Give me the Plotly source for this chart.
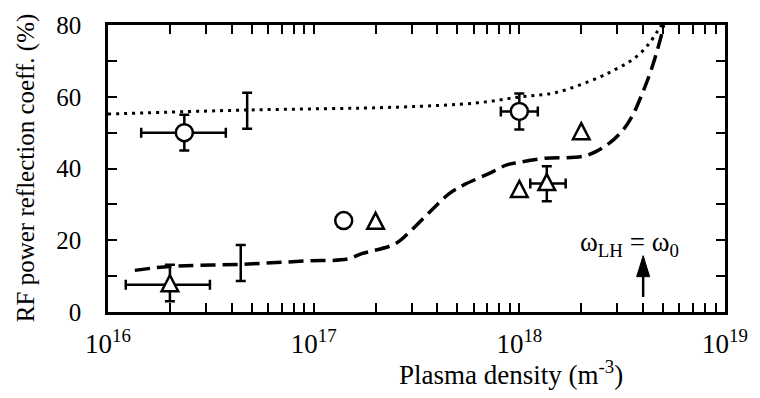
import plotly.graph_objects as go

# ---------------- data ----------------
# dotted theory curve
dot_x = [1.0e16, 4.73e16, 2.56e17, 6.24e17, 9.93e17, 1.51e18, 2.44e18, 2.95e18,
         3.48e18, 3.98e18, 4.36e18, 4.70e18, 4.92e18]
dot_y = [55.2, 56.3, 57.1, 58.3, 59.9, 61.2, 65.4, 67.7, 70.0, 72.8, 75.5, 78.3, 80.0]

# dashed theory curve
dash_x = [1.35e16, 1.99e16, 4.43e16, 9.02e16, 1.47e17, 1.70e17, 2.48e17, 2.96e17,
          3.70e17, 4.61e17, 5.40e17, 7.19e17, 8.69e17, 9.93e17, 1.31e18, 2.11e18,
          2.73e18, 3.22e18, 3.56e18, 3.98e18, 4.36e18, 4.70e18, 4.98e18, 5.02e18]
dash_y = [11.6, 12.7, 13.3, 14.2, 14.8, 16.2, 18.95, 22.6, 28.1, 33.2, 35.5, 38.7,
          41.0, 41.7, 42.8, 43.6, 47.0, 51.0, 54.9, 61.2, 67.2, 73.2, 78.7, 80.0]

# circles (measured)
circ_x = [2.35e16, 1.40e17, 1.0e18]
circ_y = [50.0, 25.5, 55.9]
circ_xlo = [1.45e16, 1.40e17, 8.13e17]
circ_xhi = [3.74e16, 1.40e17, 1.23e18]
circ_err = [5.0, 0.0, 5.0]

# triangles (measured)
tri_x = [2.0e16, 2.0e17, 2.0e18, 1.0e18, 1.36e18]
tri_y = [7.6, 25.0, 50.0, 33.9, 35.8]
tri_xlo = [1.22e16, 2.0e17, 2.0e18, 1.0e18, 1.13e18]
tri_xhi = [3.13e16, 2.0e17, 2.0e18, 1.0e18, 1.68e18]
tri_err_plus = [5.6, 0.0, 0.0, 0.0, 4.8]
tri_err_minus = [4.6, 0.0, 0.0, 0.0, 4.9]

# bare error bars
bar_x = [4.75e16, 4.42e16]
bar_y = [56.1, 13.65]
bar_err = [5.0, 5.0]

# axis ticks
x_tickvals = [1e16, 1e17, 1e18, 1e19]
x_ticktext = ["10<sup>16</sup>", "10<sup>17</sup>", "10<sup>18</sup>", "10<sup>19</sup>"]
x_minor = [m * 10 ** k for k in (16, 17, 18) for m in range(2, 10)]

# annotation arrow (omega_LH = omega_0)
arrow_x = 4.0e18
arrow_tail_y = 4.2
arrow_tip_y = 15.7

FONT = "Liberation Serif"
BLACK = "black"

# open-triangle glyph (pixels, relative to the data point, y up)
TRI_GLYPH = "M0,9.5 L8.3,-6.5 L-8.3,-6.5 Z"

fig = go.Figure()

fig.add_trace(go.Scatter(x=dot_x, y=dot_y, mode="lines", line_shape="spline",
                         line=dict(color=BLACK, width=3, dash="3px,5px"),
                         showlegend=False, hoverinfo="skip"))
fig.add_trace(go.Scatter(x=dash_x, y=dash_y, mode="lines", line_shape="spline",
                         line=dict(color=BLACK, width=3.5, dash="15px,7px"),
                         showlegend=False, hoverinfo="skip"))

eb = dict(color=BLACK, thickness=2.5, width=5)

fig.add_trace(go.Scatter(
    x=bar_x, y=bar_y, mode="markers",
    marker=dict(size=1, color="rgba(0,0,0,0)"),
    error_y=dict(type="data", array=bar_err, **eb),
    showlegend=False))

fig.add_trace(go.Scatter(
    x=circ_x, y=circ_y, mode="markers",
    marker=dict(symbol="circle", size=17, color="white", line=dict(color=BLACK, width=2.5)),
    error_y=dict(type="data", array=circ_err, **eb),
    error_x=dict(type="data", symmetric=False,
                 array=[h - x for h, x in zip(circ_xhi, circ_x)],
                 arrayminus=[x - l for l, x in zip(circ_xlo, circ_x)], **eb),
    showlegend=False))

fig.add_trace(go.Scatter(
    x=tri_x, y=tri_y, mode="markers",
    marker=dict(symbol="triangle-up", size=12, color="rgba(0,0,0,0)",
                line=dict(color="rgba(0,0,0,0)", width=0)),
    error_y=dict(type="data", symmetric=False, array=tri_err_plus, arrayminus=tri_err_minus, **eb),
    error_x=dict(type="data", symmetric=False,
                 array=[h - x for h, x in zip(tri_xhi, tri_x)],
                 arrayminus=[x - l for l, x in zip(tri_xlo, tri_x)], **eb),
    showlegend=False))

# triangle glyphs anchored at the data points through the axes
tri_shapes = [
    dict(type="path", xref="x", yref="y", xsizemode="pixel", ysizemode="pixel",
         xanchor=xv, yanchor=yv, path=TRI_GLYPH, fillcolor="white",
         line=dict(color=BLACK, width=2.5), layer="above")
    for xv, yv in zip(tri_x, tri_y)
]

axis_common = dict(
    showgrid=False, zeroline=False, showline=True, linecolor=BLACK, linewidth=2.5,
    mirror="ticks", ticks="inside", ticklen=9, tickwidth=2.2, tickcolor=BLACK,
)

fig.update_layout(
    width=760, height=398,
    margin=dict(l=108, r=30, t=22, b=86),
    paper_bgcolor="white", plot_bgcolor="white",
    xaxis=dict(type="log", range=[16, 19], tickmode="array",
               tickvals=x_tickvals, ticktext=x_ticktext, ticklabelstandoff=6,
               tickfont=dict(family=FONT, size=27, color=BLACK),
               minor=dict(tickmode="array", tickvals=x_minor, ticks="inside",
                          ticklen=9, tickwidth=2.2, tickcolor=BLACK, showgrid=False),
               **axis_common),
    yaxis=dict(range=[0, 80], tick0=0, dtick=20, ticklabelstandoff=19,
               tickfont=dict(family=FONT, size=25, color=BLACK),
               minor=dict(dtick=10, ticks="inside", ticklen=9, tickwidth=2.2,
                          tickcolor=BLACK, showgrid=False),
               **axis_common),
    annotations=[
        dict(text="RF power reflection coeff. (%)", xref="paper", yref="paper",
             x=(25 - 108) / 622, y=0.5, xanchor="center", yanchor="middle",
             textangle=-90, showarrow=False,
             font=dict(family=FONT, size=25, color=BLACK)),
        dict(text="Plasma density (m<sup>-3</sup>)", xref="paper", yref="paper",
             x=(514 - 108) / 622, y=(312 - 374) / 290, xanchor="center", yanchor="middle",
             showarrow=False, font=dict(family=FONT, size=27, color=BLACK)),
        dict(text="ω<sub>LH</sub> = ω<sub>0</sub>", xref="paper", yref="paper",
             x=(634 - 108) / 622, y=(312 - 243) / 290, xanchor="center", yanchor="middle",
             showarrow=False, font=dict(family=FONT, size=27, color=BLACK)),
    ],
    shapes=tri_shapes + [
        dict(type="line", xref="x", yref="y", x0=arrow_x, x1=arrow_x,
             y0=arrow_tail_y, y1=arrow_tip_y - 3, line=dict(color=BLACK, width=2.5)),
        dict(type="path", xref="x", yref="y", xsizemode="pixel", ysizemode="pixel",
             xanchor=arrow_x, yanchor=arrow_tip_y,
             path="M0,0 L-6.5,-21 L6.5,-21 Z", fillcolor=BLACK,
             line=dict(color=BLACK, width=1)),
    ],
)

fig.write_html("out.html", config={"displayModeBar": False},
               post_script="document.body.style.margin='0';document.body.style.overflow='hidden';")
